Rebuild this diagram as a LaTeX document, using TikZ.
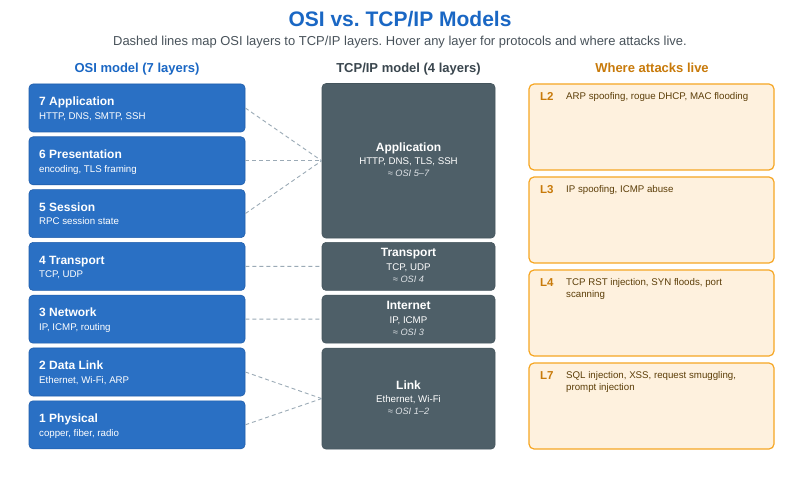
\documentclass[tikz,border=0pt]{standalone}
\usepackage{fontspec}
\setmainfont{Liberation Sans}
\usepackage{tikz}
\usetikzlibrary{positioning,calc}
\usepackage{xcolor}
\definecolor{titleblue}{RGB}{26,103,196}
\definecolor{osiblue}{RGB}{42,112,196}
\definecolor{osiedge}{RGB}{32,94,172}
\definecolor{tcpslate}{RGB}{78,95,104}
\definecolor{tcpedge}{RGB}{68,84,92}
\definecolor{hdrgray}{RGB}{58,70,78}
\definecolor{subgray}{RGB}{72,82,90}
\definecolor{eqgray}{RGB}{222,226,230}
\definecolor{atkfill}{RGB}{254,241,222}
\definecolor{atkedge}{RGB}{246,166,35}
\definecolor{atklabel}{RGB}{200,122,10}
\definecolor{atktext}{RGB}{92,62,8}
\definecolor{mapgray}{RGB}{155,170,182}

\begin{document}
\frenchspacing
\begin{tikzpicture}[x=1pt,y=-1pt,
osibox/.style={draw=osiedge,fill=osiblue,line width=0.6pt,rounded corners=4pt,
  minimum width=216pt,minimum height=48pt,inner sep=0pt},
osititle/.style={anchor=base west,inner sep=0pt,text=white,
  font=\fontsize{12}{14}\selectfont\bfseries},
osisub/.style={anchor=base west,inner sep=0pt,text=white,
  font=\fontsize{9.7}{11.7}\selectfont},
tcpbox/.style={draw=tcpedge,fill=tcpslate,line width=0.6pt,rounded corners=4pt,
  minimum width=173pt,inner sep=0pt},
tcptitle/.style={anchor=base,inner sep=0pt,text=white,
  font=\fontsize{12}{14}\selectfont\bfseries},
tcpsub/.style={anchor=base,inner sep=0pt,text=white,
  font=\fontsize{9.7}{11.7}\selectfont},
tcpeq/.style={anchor=base,inner sep=0pt,text=eqgray,
  font=\fontsize{9.2}{11}\selectfont\itshape},
atkbox/.style={draw=atkedge,fill=atkfill,line width=1.2pt,rounded corners=5pt,
  minimum width=245pt,minimum height=86pt,inner sep=0pt},
atklab/.style={anchor=base west,inner sep=0pt,text=atklabel,
  font=\fontsize{11.5}{13}\selectfont\bfseries},
atktxt/.style={anchor=base west,inner sep=0pt,text=atktext,
  font=\fontsize{9.7}{11.7}\selectfont},
colhead/.style={anchor=base,inner sep=0pt,font=\fontsize{13}{15}\selectfont\bfseries},
mapline/.style={draw=mapgray,line width=0.9pt,dash pattern=on 4pt off 3pt}]
\fill[white] (0,0) rectangle (800,502);
\useasboundingbox (0,0) rectangle (800,502);

% headings
\node[anchor=base,inner sep=0pt,text=titleblue,font=\fontsize{21}{25}\selectfont\bfseries]
  (title) at (400,26.7) {OSI vs. TCP/IP Models};
\node[anchor=base,inner sep=0pt,text=subgray,font=\fontsize{12.95}{15}\selectfont]
  (subtitle) at (400,45.7) {Dashed lines map OSI layers to TCP/IP layers. Hover any layer for protocols and where attacks live.};
\node[colhead,text=titleblue] (osihead) at (137,72.7) {OSI model (7 layers)};
\node[colhead,text=hdrgray] (tcphead) at (408.5,72.7) {TCP/IP model (4 layers)};
\node[colhead,text=atklabel] (atkhead) at (652,72.7) {Where attacks live};

% OSI stack, top = 84 + 52.8 per row
\foreach \n/\name/\sub [count=\ri from 0] in {
7/Application/{HTTP, DNS, SMTP, SSH},6/Presentation/{encoding, TLS framing},
5/Session/{RPC session state},4/Transport/{TCP, UDP},3/Network/{IP, ICMP, routing},
2/Data Link/{Ethernet, Wi-Fi, ARP},1/Physical/{copper, fiber, radio}}{
\pgfmathsetmacro{\ytop}{84+52.8*\ri}
\node[osibox] (osi\n) at (137,\ytop+24) {};
\node[osititle] (osit\n) at (39,\ytop+21.7) {\n\ \name};
\node[osisub] (osis\n) at (39,\ytop+35.3) {\sub};
}

% TCP/IP stack
\node[tcpbox,minimum height=154.5pt] (tcpapp) at (408.5,160.8) {};
\node[tcpbox,minimum height=48pt] (tcptrans) at (408.5,266.4) {};
\node[tcpbox,minimum height=48pt] (tcpnet) at (408.5,319.2) {};
\node[tcpbox,minimum height=101pt] (tcplink) at (408.5,398.6) {};
\foreach \k/\name/\sub/\eq/\cy in {
app/Application/{HTTP, DNS, TLS, SSH}/{5--7}/160.8,trans/Transport/{TCP, UDP}/4/266.4,
net/Internet/{IP, ICMP}/3/319.2,link/Link/{Ethernet, Wi-Fi}/{1--2}/398.6}{
\node[tcptitle] (tcpt\k) at (408.5,\cy-9.6) {\name};
\node[tcpsub] (tcps\k) at (408.5,\cy+4.2) {\sub};
\node[tcpeq] (tcpe\k) at (408.5,\cy+16.2) {≈ OSI \eq};
}

% OSI -> TCP/IP mapping
\foreach \a/\b in {osi7/tcpapp,osi6/tcpapp,osi5/tcpapp,osi4/tcptrans,
osi3/tcpnet,osi2/tcplink,osi1/tcplink}
\draw[mapline] (\a.east) -- (\b.west);

% attack cards, top = 84 + 93 per row
\foreach \l/\txt [count=\ri from 0] in {
2/{ARP spoofing, rogue DHCP, MAC flooding},3/{IP spoofing, ICMP abuse},
4/{TCP RST injection, SYN floods, port\\scanning},
7/{SQL injection, XSS, request smuggling,\\prompt injection}}{
\pgfmathsetmacro{\ytop}{84+93*\ri}
\node[atkbox] (atk\l) at (651.5,\ytop+43) {};
\node[atklab] (atkl\l) at (540,\ytop+16.7) {L\l};
\node[atktxt] (atkt\l) at (566,\ytop+15.5) {\parbox[t]{200pt}{\raggedright\txt}};
}
\end{tikzpicture}
\end{document}
